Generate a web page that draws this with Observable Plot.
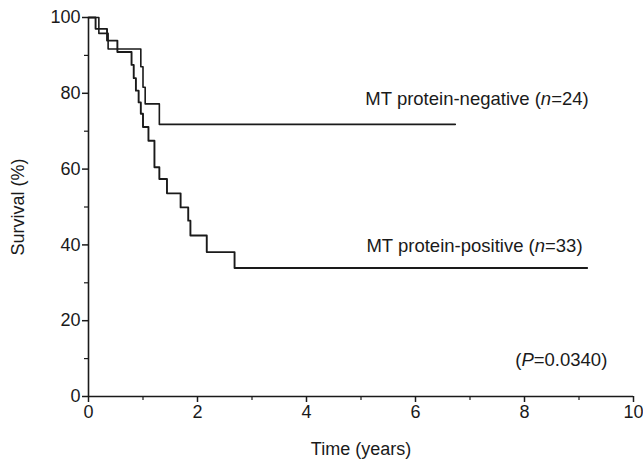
<!DOCTYPE html>
<html>
<head>
<meta charset="utf-8">
<script src="https://cdn.jsdelivr.net/npm/d3@7"></script>
<script src="https://cdn.jsdelivr.net/npm/@observablehq/plot@0.6"></script>
<style>
  html, body { margin: 0; padding: 0; background: #fff; }
  #chart svg { display: block; }
</style>
</head>
<body>
<div id="chart"></div>
<script>
// Kaplan–Meier step data
const negTime = [0, 0.19, 0.36, 0.96, 1.00, 1.04, 1.30, 6.73];
const negSurv = [100, 95.8, 91.7, 87.0, 81.6, 77.2, 71.8, 71.8];
const posTime = [0, 0.13, 0.34, 0.53, 0.79, 0.83, 0.87, 0.92, 0.96, 1.00, 1.10, 1.21, 1.30, 1.44, 1.69, 1.83, 1.87, 2.17, 2.68, 9.15];
const posSurv = [100, 97.0, 93.9, 90.9, 87.5, 84.0, 80.7, 77.6, 74.6, 71.1, 67.5, 60.5, 57.4, 53.6, 49.9, 46.4, 42.5, 38.1, 33.9, 33.9];

const xTicks = [0, 2, 4, 6, 8, 10];
const xMinor = [1, 3, 5, 7, 9];
const yTicks = [0, 20, 40, 60, 80, 100];
const yMinor = [10, 30, 50, 70, 90];

const labelText = ["MT protein-negative (n=24)", "MT protein-positive (n=33)", "(P=0.0340)"];
const labelX = [5.08, 5.10, 7.83];
const labelY = [78.6, 39.8, 9.7];

const neg = negTime.map((t, i) => ({t, s: negSurv[i]}));
const pos = posTime.map((t, i) => ({t, s: posSurv[i]}));
const labels = labelText.map((text, i) => ({text, x: labelX[i], y: labelY[i]}));

const chart = Plot.plot({
  width: 643,
  height: 460,
  marginLeft: 88,
  marginRight: 10,
  marginTop: 17,
  marginBottom: 64,
  style: {fontFamily: "'Liberation Sans', Arial, sans-serif", fontSize: "18px", color: "#1a1a1a", background: "#fff"},
  x: {domain: [0, 10]},
  y: {domain: [0, 100]},
  marks: [
    Plot.axisX({ticks: xTicks, tickSize: 6, tickPadding: 3, tickFormat: d => d, label: "Time (years)", labelAnchor: "center", labelArrow: "none", labelOffset: 58, strokeWidth: 1.5}),
    Plot.axisX({ticks: xMinor, tickSize: 4, text: null, label: null, strokeWidth: 1.2}),
    Plot.axisY({ticks: yTicks, tickSize: 6, tickPadding: 2, tickFormat: d => d, label: "Survival (%)", labelAnchor: "center", labelArrow: "none", labelOffset: 77, strokeWidth: 1.5}),
    Plot.axisY({ticks: yMinor, tickSize: 4, text: null, label: null, strokeWidth: 1.2}),
    Plot.ruleX([0], {y1: 0, y2: 100, stroke: "#1a1a1a", strokeWidth: 1.6}),
    Plot.ruleY([0], {x1: 0, x2: 10, stroke: "#1a1a1a", strokeWidth: 1.6}),
    Plot.line(neg, {x: "t", y: "s", curve: "step-after", stroke: "#1a1a1a", strokeWidth: 1.6}),
    Plot.line(pos, {x: "t", y: "s", curve: "step-after", stroke: "#1a1a1a", strokeWidth: 1.9}),
    Plot.text(labels, {x: "x", y: "y", text: "text", textAnchor: "start", fill: "#1a1a1a", fontSize: 18.5, className: "annot"})
  ]
});

// italicise n and P in annotations
d3.select(chart).selectAll(".annot text").each(function () {
  const s = this.textContent;
  const m = s.match(/^(.*\()([nP])(=.*)$/);
  if (!m) return;
  const el = d3.select(this);
  el.text(null);
  el.append("tspan").text(m[1]);
  el.append("tspan").attr("font-style", "italic").text(m[2]);
  el.append("tspan").text(m[3]);
});

document.getElementById("chart").appendChild(chart);
</script>
</body>
</html>
